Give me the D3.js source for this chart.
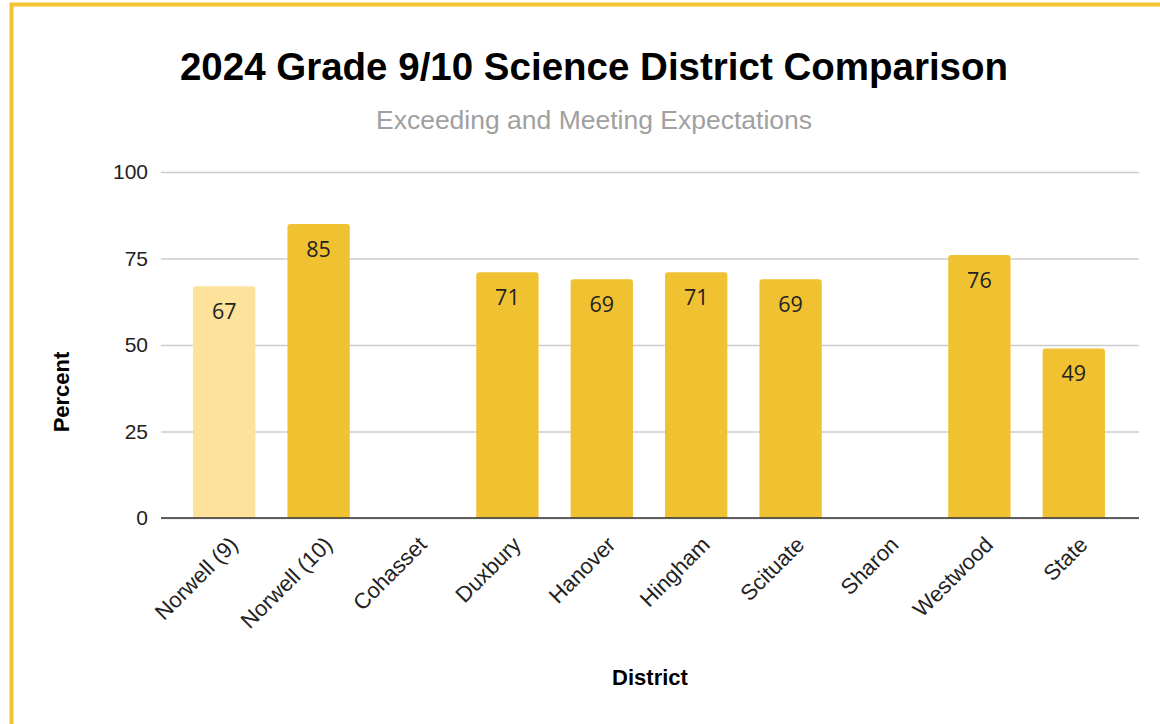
<!DOCTYPE html>
<html><head><meta charset="utf-8">
<script src="https://cdn.jsdelivr.net/npm/d3@7"></script>
<style>body{margin:0;background:#fff}svg{display:block}</style>
</head><body><svg id="c" width="1160" height="724"></svg>
<script>
const categories = ["Norwell (9)","Norwell (10)","Cohasset","Duxbury","Hanover","Hingham","Scituate","Sharon","Westwood","State"];
const values = [67,85,null,71,69,71,69,null,76,49];
const yTicks = [0,25,50,75,100];
const title = "2024 Grade 9/10 Science District Comparison";
const subtitle = "Exceeding and Meeting Expectations";

const svg = d3.select("#c");
svg.append("rect").attr("x",11.5).attr("y",4.5).attr("width",1160).attr("height",730)
  .attr("fill","none").attr("stroke","#F4C430").attr("stroke-width",4);

const x = d3.scaleBand().domain(categories).range([177,1121]).paddingInner(0.34).paddingOuter(0.17);
const y = d3.scaleLinear().domain([0,100]).range([518,172]);

svg.append("text").attr("x",594).attr("y",80).attr("text-anchor","middle")
  .attr("font-family","Liberation Sans, Arial, sans-serif").attr("font-weight","bold").attr("font-size",38.5).text(title);
svg.append("text").attr("x",594).attr("y",129).attr("text-anchor","middle")
  .attr("font-family","Liberation Sans, Arial, sans-serif").attr("fill","#a0a0a0").attr("font-size",26.5).text(subtitle);

const yAxis = svg.append("g").attr("transform","translate(161,0)")
  .call(d3.axisLeft(y).tickValues(yTicks).tickSize(-978).tickPadding(13));
yAxis.select(".domain").remove();
yAxis.selectAll(".tick line").attr("stroke","#cccccc").attr("stroke-width",1.5);
yAxis.selectAll(".tick text").attr("font-family","Liberation Sans, Arial, sans-serif").attr("font-size",21).attr("fill","#222");

const data = categories.map((c,i)=>({c,v:values[i],i})).filter(d=>d.v!=null);
const r=3;
svg.append("g").selectAll("path").data(data).join("path")
  .attr("fill",d=>d.i===0?"#FCE29A":"#F0C131")
  .attr("d",d=>{
    const x0=x(d.c), w=x.bandwidth(), y0=y(d.v), y1=y(0);
    return `M${x0},${y1}V${y0+r}Q${x0},${y0} ${x0+r},${y0}H${x0+w-r}Q${x0+w},${y0} ${x0+w},${y0+r}V${y1}Z`;
  });
svg.append("g").selectAll("text").data(data).join("text")
  .attr("x",d=>x(d.c)+x.bandwidth()/2).attr("y",d=>y(d.v)+33)
  .attr("text-anchor","middle").attr("font-family","Open Sans, Noto Sans, sans-serif").attr("font-size",21.5).attr("fill","#222")
  .text(d=>d.v);

svg.append("line").attr("x1",161).attr("x2",1139).attr("y1",y(0)).attr("y2",y(0)).attr("stroke","#333").attr("stroke-width",1.5);

const xAxis = svg.append("g").attr("transform",`translate(0,${y(0)})`)
  .call(d3.axisBottom(x).tickSize(0).tickPadding(0));
xAxis.select(".domain").remove();
xAxis.selectAll(".tick text").attr("font-family","Liberation Sans, Arial, sans-serif").attr("font-size",22).attr("fill","#222")
  .attr("text-anchor","end").attr("dy",0).attr("transform","translate(15,28) rotate(-45)");

svg.append("text").attr("transform","translate(69,392) rotate(-90)").attr("text-anchor","middle")
  .attr("font-family","Liberation Sans, Arial, sans-serif").attr("font-weight","bold").attr("font-size",22).text("Percent");
svg.append("text").attr("x",650).attr("y",685).attr("text-anchor","middle")
  .attr("font-family","Liberation Sans, Arial, sans-serif").attr("font-weight","bold").attr("font-size",22).text("District");
</script></body></html>
